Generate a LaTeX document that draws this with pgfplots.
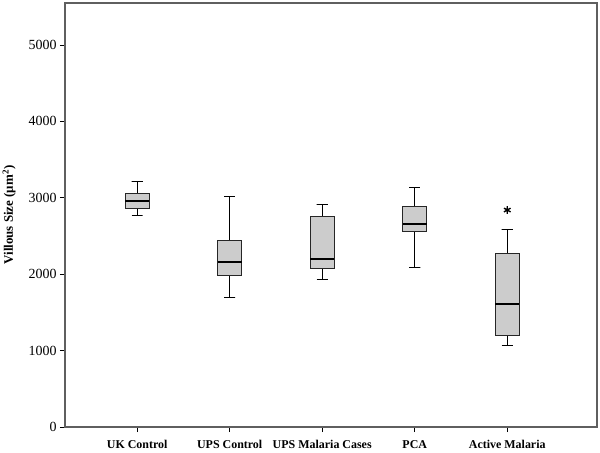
\documentclass[border=0pt]{standalone}
\usepackage{fontspec}
\setmainfont{Liberation Serif}
\usepackage{pgfplots}
\pgfplotsset{compat=1.18}
\definecolor{boxfill}{RGB}{204,204,204}
\definecolor{framegray}{RGB}{95,95,95}

\begin{document}
\begin{tikzpicture}
\begin{axis}[
  name=ax,
  scale only axis,
  width=532bp, height=424bp,
  xmin=0.22, xmax=5.97,
  ymin=0, ymax=5550,
  xtick={1,2,3,4,5},
  xticklabels={UK Control, UPS Control, UPS Malaria Cases, PCA, Active Malaria},
  xticklabel style={font=\fontsize{12}{14}\selectfont\bfseries, yshift=-5bp},
  ytick={0,1000,2000,3000,4000,5000},
  yticklabel style={font=\fontsize{14}{16}\selectfont},
  /pgf/number format/assume math mode=true,
  /pgf/number format/1000 sep={},
  tick align=outside,
  tick pos=left,
  major tick length=5bp,
  axis line style={framegray, line width=1.2bp},
  tick style={black, line width=0.8bp},
  ylabel={Villous Size (μm\textsuperscript{2})},
  ylabel style={font=\fontsize{13}{15}\selectfont\bfseries},
  ylabel shift=6bp,
  whisk/.style={black, line width=0.8bp, line join=bevel},
  box/.style={draw=black!85, fill=boxfill, line width=0.8bp},
  med/.style={black, line width=1.6bp},
]
% UK Control: whiskers 2771-3209, box 2866-3056, median 2960
\addplot[whisk] coordinates {(0.94,2771) (1.06,2771) (1,2771) (1,3209) (0.94,3209) (1.06,3209)};
\addplot[box] coordinates {(0.87,2866) (1.13,2866) (1.13,3056) (0.87,3056)} --cycle;
\addplot[med] coordinates {(0.87,2960) (1.13,2960)};
% UPS Control: whiskers 1696-3014, box 1984-2438, median 2163
\addplot[whisk] coordinates {(1.94,1696) (2.06,1696) (2,1696) (2,3014) (1.94,3014) (2.06,3014)};
\addplot[box] coordinates {(1.87,1984) (2.13,1984) (2.13,2438) (1.87,2438)} --cycle;
\addplot[med] coordinates {(1.87,2163) (2.13,2163)};
% UPS Malaria Cases: whiskers 1927-2915, box 2071-2761, median 2202
\addplot[whisk] coordinates {(2.94,1927) (3.06,1927) (3,1927) (3,2915) (2.94,2915) (3.06,2915)};
\addplot[box] coordinates {(2.87,2071) (3.13,2071) (3.13,2761) (2.87,2761)} --cycle;
\addplot[med] coordinates {(2.87,2202) (3.13,2202)};
% PCA: whiskers 2084-3137, box 2565-2888, median 2657
\addplot[whisk] coordinates {(3.94,2084) (4.06,2084) (4,2084) (4,3137) (3.94,3137) (4.06,3137)};
\addplot[box] coordinates {(3.87,2565) (4.13,2565) (4.13,2888) (3.87,2888)} --cycle;
\addplot[med] coordinates {(3.87,2657) (4.13,2657)};
% Active Malaria: whiskers 1062-2582, box 1198-2267, median 1612
\addplot[whisk] coordinates {(4.94,1062) (5.06,1062) (5,1062) (5,2582) (4.94,2582) (5.06,2582)};
\addplot[box] coordinates {(4.87,1198) (5.13,1198) (5.13,2267) (4.87,2267)} --cycle;
\addplot[med] coordinates {(4.87,1612) (5.13,1612)};
% outlier
\addplot[only marks, mark=asterisk, mark size=3.8bp, mark options={black, solid, line width=1.4bp}]
  coordinates {(5,2840)};
\end{axis}
\pgfresetboundingbox
\path ([shift={(-65bp,-26bp)}]ax.south west) rectangle ([shift={(3bp,3bp)}]ax.north east);
\end{tikzpicture}
\end{document}
